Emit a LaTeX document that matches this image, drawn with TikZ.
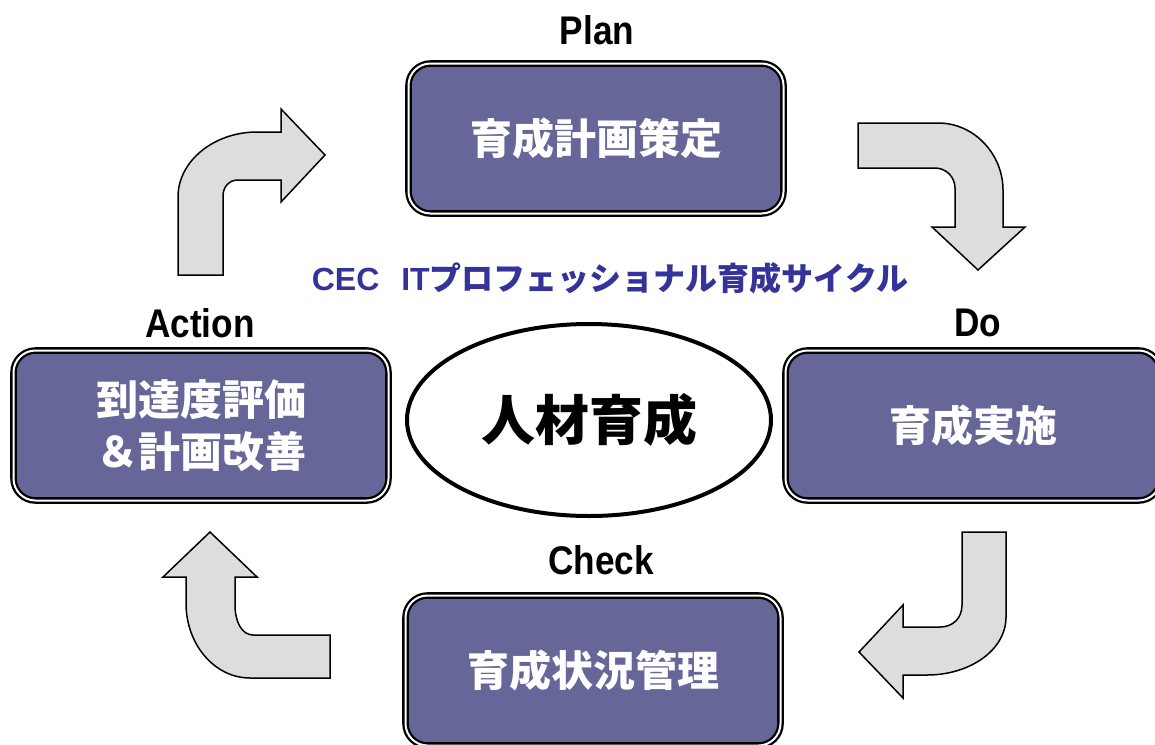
\documentclass[tikz,border=0pt]{standalone}
\usepackage{fontspec}
\usetikzlibrary{shapes.geometric}
\newfontfamily\jp{Noto Sans CJK JP}
\newfontfamily\lbl{Liberation Sans}[FakeStretch=0.88]
\newfontfamily\lat{Liberation Sans}
\definecolor{boxfill}{HTML}{666699}
\definecolor{arrfill}{HTML}{DDDDDD}
\definecolor{titleblue}{HTML}{333399}
\tikzset{
  stepbox/.style={rounded corners=22, fill=boxfill, draw=black, double=white,
    double distance=2, line width=2.3, minimum width=375, minimum height=150,
    text=white, font=\jp\bfseries\fontsize{42}{52}\selectfont, align=center, inner sep=0},
  phase/.style={font=\lbl\bfseries\fontsize{40}{44}\selectfont, inner sep=0},
  blockarrow/.style={fill=arrfill, draw=black, line width=1.5, line join=miter},
  hub/.style={ellipse, draw=black, line width=4, fill=white, minimum width=364,
    minimum height=192, inner sep=0, font=\jp\bfseries\fontsize{54}{60}\selectfont}
}
\begin{document}
\begin{tikzpicture}[x=1pt,y=-1pt]
\clip (0,0) rectangle (1155,744);
\fill[white] (0,0) rectangle (1155,744);

% arrows
\draw[blockarrow] (178,275) -- (178,197) .. controls (178,161) and (214,132) .. (257,132)
  -- (281,132) -- (281,109) -- (325,155) -- (281,202) -- (281,180) -- (238,180)
  .. controls (229,180) and (223,187) .. (223,196) -- (223,275) -- cycle;
\draw[blockarrow] (858,123) -- (938,123) .. controls (975,123) and (1003,155) .. (1003,190)
  -- (1003,227) -- (1025,227) -- (978,270) -- (932,227) -- (955,227) -- (955,188)
  .. controls (955,177) and (946,168) .. (935,168) -- (858,168) -- cycle;
\draw[blockarrow] (962,532) -- (1006,532) -- (1006,617) .. controls (1006,650) and (970,675) .. (927,675)
  -- (903,675) -- (903,698) -- (859,652) -- (903,605) -- (903,627) -- (940,627)
  .. controls (953,627) and (962,618) .. (962,605) -- cycle;
\draw[blockarrow] (330,635) -- (253,635) .. controls (242,635) and (235,622) .. (235,605)
  -- (235,577) -- (257,577) -- (210,532) -- (163,577) -- (186,577) -- (186,603)
  .. controls (186,645) and (215,678) .. (250,678) -- (330,678) -- cycle;

% boxes
\node[stepbox] (plan) at (596,138.5) {\raisebox{-3pt}{育成計画策定}};
\node[stepbox] (do) at (973,425.5) {\raisebox{-3pt}{育成実施}};
\node[stepbox] (check) at (593,670.5) {\raisebox{-2pt}{育成状況管理}};
\node[stepbox] (action) at (201,425.5) {到達度評価\\＆計画改善};

% phase labels
\node[phase] (planlbl) at (597,30) {Plan};
\node[phase] (dolbl) at (978,323) {Do};
\node[phase] (checklbl) at (601,560) {Check};
\node[phase] (actionlbl) at (200,323) {Action};

% center
\node[hub] (hub) at (589,420) {人材育成};
\node[font=\jp\bfseries\fontsize{32}{36}\selectfont, text=titleblue, inner sep=0] (title) at (610,278) {{\lat\bfseries CEC}\hspace{22pt}{\lat\bfseries IT}プロフェッショナル育成サイクル};
\end{tikzpicture}
\end{document}
